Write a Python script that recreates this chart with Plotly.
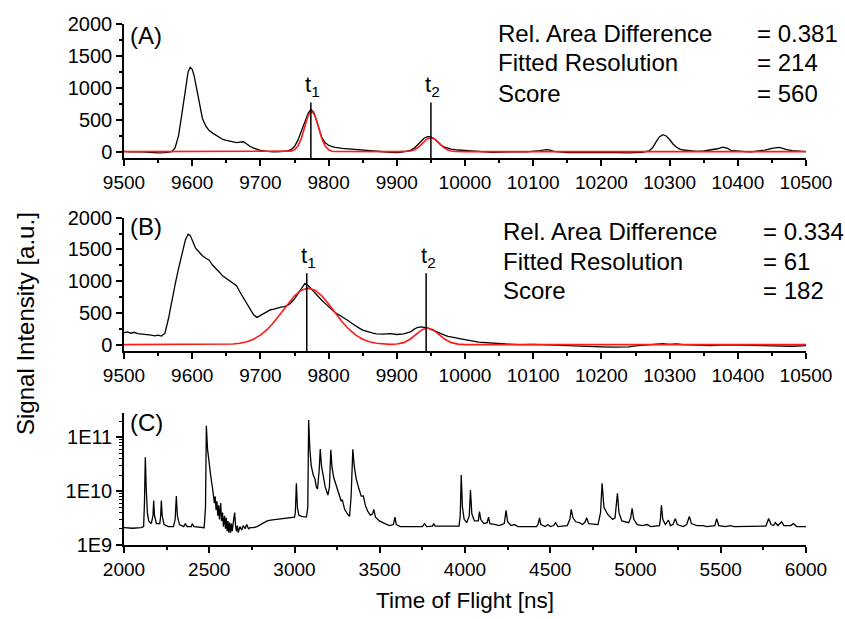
import plotly.graph_objects as go

# ---------------- Panel A data ----------------
a_x = [9500, 9510, 9520, 9530, 9540, 9550, 9560, 9565, 9570, 9575, 9580, 9585, 9590, 9594, 9597,
       9600, 9603, 9607, 9611, 9615, 9620, 9625, 9630, 9635, 9640, 9645, 9650, 9655, 9660, 9665,
       9670, 9675, 9680, 9685, 9690, 9695, 9700, 9710, 9720, 9730, 9740, 9745, 9750, 9755, 9760,
       9765, 9770, 9774, 9778, 9782, 9786, 9790, 9795, 9800, 9805, 9810, 9820, 9830, 9840, 9850,
       9860, 9870, 9880, 9890, 9900, 9910, 9920, 9925, 9930, 9935, 9940, 9945, 9950, 9955, 9960,
       9965, 9970, 9975, 9980, 9990, 10000, 10010, 10020, 10030, 10040, 10050, 10060, 10070, 10080,
       10090, 10100, 10110, 10120, 10125, 10130, 10140, 10150, 10160, 10170, 10180, 10190, 10200,
       10210, 10220, 10230, 10240, 10250, 10260, 10270, 10275, 10280, 10285, 10290, 10295, 10300,
       10305, 10310, 10315, 10320, 10330, 10340, 10350, 10360, 10370, 10378, 10385, 10390, 10400,
       10410, 10420, 10430, 10440, 10450, 10460, 10465, 10470, 10480, 10490, 10500]
a_y = [5, -5, 0, -10, -15, -20, -15, -10, 0, 60, 250, 600, 1000, 1250, 1320,
       1290, 1180, 950, 720, 520, 400, 330, 290, 260, 220, 190, 175, 165, 155, 140,
       150, 155, 120, 80, 55, 35, 20, 5, -5, 0, 10, 30, 80, 180, 320,
       470, 600, 660, 620, 500, 350, 220, 140, 100, 80, 65, 50, 40, 30, 20,
       10, 5, 0, -10, -15, -5, 20, 50, 100, 160, 210, 235, 230, 200, 150,
       100, 70, 50, 40, 25, 15, 5, 0, -5, -10, -5, -10, -5, 0,
       -5, 0, 15, 30, 25, 5, -10, -15, -10, -15, -20, -15, -10,
       -15, -10, -15, -20, -15, -10, 10, 60, 150, 230, 265, 245, 190,
       120, 70, 40, 25, 15, 5, 10, 25, 45, 70, 50, 20, 5,
       0, -5, 5, 25, 50, 65, 55, 35, 15, 5, 0]

a_fit_x = [9500, 9740, 9745, 9750, 9755, 9760, 9765, 9770, 9775, 9780, 9785, 9790, 9795, 9800,
           9805, 9810, 9900, 9910, 9915, 9920, 9926, 9932, 9938, 9944, 9950, 9956, 9962, 9968,
           9974, 9980, 9986, 9992, 10000, 10500]
a_fit_y = [0, 1, 7, 28, 87, 208, 388, 565, 640, 565, 388, 208, 87, 28,
           7, 1, 0, 1, 3, 10, 30, 71, 133, 194, 220, 194, 133, 71,
           30, 10, 3, 1, 0, 0]

a_t_pos = [9774, 9950]
a_t_top = [770, 770]
a_t_labels = ["t<sub>1</sub>", "t<sub>2</sub>"]
a_stats = ["= 0.381", "= 214", "= 560"]

# ---------------- Panel B data ----------------
b_x = [9500, 9505, 9510, 9515, 9520, 9525, 9530, 9535, 9540, 9545, 9550, 9555, 9560, 9565, 9570,
       9575, 9580, 9585, 9590, 9594, 9597, 9600, 9605, 9610, 9615, 9620, 9625, 9630, 9635, 9640,
       9645, 9650, 9655, 9660, 9665, 9670, 9675, 9680, 9685, 9690, 9695, 9700, 9705, 9710, 9715,
       9720, 9725, 9730, 9735, 9740, 9745, 9750, 9755, 9760, 9765, 9770, 9775, 9780, 9785, 9790,
       9795, 9800, 9805, 9810, 9815, 9820, 9825, 9830, 9835, 9840, 9845, 9850, 9855, 9860, 9865,
       9870, 9880, 9890, 9900, 9910, 9920, 9925, 9930, 9935, 9940, 9945, 9950, 9955, 9960, 9965,
       9970, 9975, 9980, 9985, 9990, 10000, 10010, 10020, 10030, 10040, 10050, 10060, 10070, 10080,
       10100, 10120, 10140, 10160, 10180, 10200, 10220, 10240, 10250, 10270, 10280, 10290, 10300,
       10310, 10320, 10340, 10360, 10380, 10400, 10420, 10440, 10460, 10480, 10500]
b_y = [190, 200, 180, 195, 175, 170, 160, 165, 150, 140, 150, 135, 180, 400, 700,
       950, 1200, 1450, 1650, 1740, 1720, 1650, 1520, 1460, 1400, 1360, 1330, 1250, 1200, 1140,
       1080, 1040, 1000, 960, 930, 830, 740, 650, 560, 470, 430, 460, 500, 530, 550,
       560, 580, 590, 600, 620, 660, 720, 800, 880, 960, 930, 870, 820, 760, 700,
       650, 600, 560, 500, 470, 440, 410, 370, 330, 290, 260, 230, 210, 195, 180,
       170, 165, 175, 160, 170, 200, 240, 270, 280, 270, 265, 240, 215, 190, 175,
       150, 130, 115, 110, 100, 85, 60, 40, 30, 20, 15, 10, 5, 0,
       5, -5, -10, -20, -30, -35, -40, -35, -20, 0, 10, 15, 5,
       10, 0, -10, -15, -5, -10, -15, -10, -20, -25, -15]

b_fit_x = [9500, 9640, 9650, 9660, 9670, 9680, 9690, 9700, 9710, 9720, 9730, 9740, 9750, 9760,
           9770, 9780, 9790, 9800, 9810, 9820, 9830, 9840, 9850, 9860, 9870, 9880, 9890, 9900,
           9910, 9920, 9930, 9937, 9945, 9953, 9960, 9970, 9980, 9990, 10000, 10010, 10500]
b_fit_y = [0, 2, 4, 11, 23, 46, 86, 149, 239, 357, 496, 641, 769, 858,
           890, 858, 769, 641, 496, 357, 239, 149, 86, 46, 23, 11, 5, 10,
           32, 89, 178, 235, 262, 235, 178, 89, 32, 8, 1, 0, 0]

b_t_pos = [9768, 9943]
b_t_top = [1125, 1125]
b_t_labels = ["t<sub>1</sub>", "t<sub>2</sub>"]
b_stats = ["= 0.334", "= 61", "= 182"]

stat_names = ["Rel. Area Difference", "Fitted Resolution", "Score"]

# ---------------- Panel C data ----------------
c_x = [2000, 2050, 2100, 2115, 2120, 2125, 2130, 2137, 2145, 2160, 2170, 2174, 2179, 2190, 2210,
       2215, 2219, 2224, 2235, 2260, 2290, 2300, 2307, 2313, 2325, 2350, 2360, 2370, 2395, 2400,
       2410, 2470, 2478, 2483, 2490, 2500, 2510, 2520, 2526, 2530, 2535, 2540, 2545, 2550, 2555,
       2560, 2567, 2572, 2578, 2583, 2590, 2595, 2600, 2605, 2610, 2615, 2620, 2625, 2630, 2635,
       2640, 2649, 2655, 2660, 2665, 2670, 2680, 2690, 2700, 2710, 2720, 2730, 2740, 2760, 2780,
       2800, 2820, 2840, 2860, 2900, 2950, 3000, 3005, 3011, 3017, 3025, 3040, 3070, 3078, 3083,
       3090, 3098, 3110, 3120, 3128, 3135, 3145, 3151, 3158, 3167, 3180, 3196, 3205, 3213, 3220,
       3230, 3245, 3260, 3274, 3280, 3294, 3310, 3323, 3332, 3342, 3350, 3362, 3375, 3391, 3404,
       3415, 3430, 3445, 3458, 3465, 3475, 3498, 3530, 3557, 3580, 3589, 3597, 3620, 3660, 3700,
       3750, 3763, 3775, 3810, 3816, 3825, 3900, 3965, 3972, 3978, 3985, 3995, 4010, 4025, 4032,
       4040, 4055, 4078, 4085, 4092, 4110, 4130, 4138, 4146, 4180, 4200, 4230, 4241, 4250, 4270,
       4290, 4310, 4420, 4430, 4437, 4445, 4470, 4486, 4500, 4520, 4531, 4545, 4600, 4615, 4623,
       4633, 4650, 4671, 4690, 4705, 4714, 4725, 4780, 4795, 4804, 4815, 4837, 4866, 4880, 4887,
       4894, 4903, 4920, 4960, 4972, 4980, 4990, 5010, 5040, 5068, 5090, 5140, 5146, 5152, 5160,
       5175, 5193, 5205, 5220, 5234, 5245, 5280, 5300, 5316, 5328, 5360, 5394, 5420, 5465, 5476,
       5488, 5530, 5554, 5580, 5700, 5765, 5781, 5795, 5810, 5820, 5835, 5857, 5870, 5910, 5927,
       5945, 6000]
c_y = [2.1e9, 2.05e9, 2.1e9, 2.2e9, 6e9, 4.3e10, 1.2e10, 4e9, 2.8e9, 2.5e9, 3.5e9, 6.7e9, 3.5e9, 2.5e9, 2.5e9,
       3.5e9, 6.7e9, 3.5e9, 2.4e9, 2.2e9, 2.2e9, 3e9, 8.1e9, 3.5e9, 2.4e9, 2.2e9, 2.5e9, 2.2e9, 2.2e9, 2.5e9,
       2.2e9, 2.1e9, 5e9, 1.65e11, 6e10, 3e10, 1.8e10, 1.1e10, 8e9, 6e9, 8e9, 4.5e9, 6.5e9, 3.5e9, 5.5e9,
       3e9, 6e9, 2.8e9, 4e9, 2.2e9, 3.5e9, 2e9, 3.2e9, 1.8e9, 2.8e9, 1.7e9, 2.6e9, 1.7e9, 2.5e9, 1.8e9,
       2.5e9, 4e9, 2.2e9, 1.8e9, 2.3e9, 1.7e9, 2.2e9, 1.9e9, 2.3e9, 2e9, 2.4e9, 2e9, 2.1e9, 2.1e9, 2.2e9,
       2.4e9, 2.6e9, 2.8e9, 2.9e9, 3.0e9, 3.1e9, 3.3e9, 4e9, 1.4e10, 5e9, 3.6e9, 3.4e9, 3.3e9, 5e9, 2.1e11,
       6e10, 3e10, 2e10, 1.7e10, 1.2e10, 1.1e10, 2.5e10, 6.1e10, 3e10, 1.9e10, 1.2e10, 8.5e9, 1.2e10, 5.9e10, 2.8e10,
       1.8e10, 1.25e10, 8.5e9, 6.5e9, 7e9, 4.6e9, 3.8e9, 3.4e9, 8e9, 6e10, 3e10, 1.7e10, 1.2e10, 8.1e9, 8.2e9,
       5.5e9, 4.2e9, 3.6e9, 3.8e9, 4.6e9, 3.3e9, 2.8e9, 2.5e9, 2.3e9, 2.4e9, 3.3e9, 2.4e9, 2.2e9, 2.2e9, 2.2e9,
       2.2e9, 2.5e9, 2.2e9, 2.25e9, 2.5e9, 2.25e9, 2.25e9, 2.25e9, 3.5e9, 2e10, 5e9, 3e9, 2.6e9, 3.5e9, 1.05e10,
       3.8e9, 2.8e9, 2.8e9, 4.2e9, 3e9, 2.5e9, 2.6e9, 3.3e9, 2.5e9, 2.4e9, 2.3e9, 2.5e9, 4.4e9, 2.7e9, 2.3e9,
       2.4e9, 2.2e9, 2.2e9, 2.5e9, 3.2e9, 2.4e9, 2.2e9, 2.4e9, 2.2e9, 2.3e9, 2.6e9, 2.2e9, 2.3e9, 3e9, 4.6e9,
       3.2e9, 2.7e9, 2.6e9, 2.4e9, 2.7e9, 3.2e9, 2.5e9, 2.4e9, 4e9, 1.4e10, 5e9, 3.7e9, 3e9, 3.2e9, 5e9,
       9.1e9, 4e9, 2.8e9, 2.6e9, 3.2e9, 4.8e9, 3e9, 2.4e9, 2.3e9, 2.4e9, 2.2e9, 2.3e9, 3e9, 5.5e9, 3e9,
       2.4e9, 2.9e9, 2.3e9, 2.4e9, 3.1e9, 2.4e9, 2.2e9, 2.4e9, 3.4e9, 2.5e9, 2.3e9, 2.3e9, 2.2e9, 2.3e9, 3.1e9,
       2.3e9, 2.2e9, 2.3e9, 2.2e9, 2.2e9, 2.25e9, 3.1e9, 2.4e9, 2.3e9, 2.6e9, 2.3e9, 2.7e9, 2.3e9, 2.3e9, 2.5e9,
       2.2e9, 2.2e9]

c_tickvals = [1e9, 1e10, 1e11]
c_ticktext = ["1E9", "1E10", "1E11"]

# ---------------- Figure ----------------
FONT = "Liberation Sans, Arial, Helvetica, sans-serif"
W, H = 845, 619
ML, MR, MT, MB = 124, 39, 24, 74
PW, PH = W - ML - MR, H - MT - MB


def px(xs):
    return (xs - ML) / PW


def py(ys):
    return (H - MB - ys) / PH


BLACK_W = 1.3
RED = "#ff1a1a"
fig = go.Figure()

fig.add_trace(go.Scatter(x=a_x, y=a_y, mode="lines", line=dict(color="black", width=BLACK_W),
                         xaxis="x", yaxis="y", showlegend=False))
fig.add_trace(go.Scatter(x=a_fit_x, y=a_fit_y, mode="lines", line=dict(color=RED, width=1.6),
                         xaxis="x", yaxis="y", showlegend=False))
vx, vy = [], []
for t, top in zip(a_t_pos, a_t_top):
    vx += [t, t, None]
    vy += [-100, top, None]
fig.add_trace(go.Scatter(x=vx, y=vy, mode="lines", line=dict(color="black", width=1.5),
                         xaxis="x", yaxis="y", showlegend=False, cliponaxis=False))

fig.add_trace(go.Scatter(x=b_x, y=b_y, mode="lines", line=dict(color="black", width=BLACK_W),
                         xaxis="x2", yaxis="y2", showlegend=False))
fig.add_trace(go.Scatter(x=b_fit_x, y=b_fit_y, mode="lines", line=dict(color=RED, width=1.6),
                         xaxis="x2", yaxis="y2", showlegend=False))
vx, vy = [], []
for t, top in zip(b_t_pos, b_t_top):
    vx += [t, t, None]
    vy += [-100, top, None]
fig.add_trace(go.Scatter(x=vx, y=vy, mode="lines", line=dict(color="black", width=1.5),
                         xaxis="x2", yaxis="y2", showlegend=False, cliponaxis=False))

fig.add_trace(go.Scatter(x=c_x, y=c_y, mode="lines", line=dict(color="black", width=BLACK_W),
                         xaxis="x3", yaxis="y3", showlegend=False))

xtickfont = dict(family=FONT, size=19, color="black")
ytickfont = dict(family=FONT, size=20, color="black")
common = dict(showline=True, linecolor="black", linewidth=1.5, ticks="outside", ticklen=6,
              tickwidth=1.5, tickcolor="black", showgrid=False, zeroline=False)


def minor(dt):
    return dict(ticks="outside", ticklen=3.5, tickwidth=1.5, tickcolor="black", dtick=dt,
                showgrid=False)


dA = [py(158), py(24)]
dB = [py(351), py(217.7)]
dC = [0, py(412.7)]

fig.update_layout(
    width=W, height=H, margin=dict(l=ML, r=MR, t=MT, b=MB, autoexpand=False),
    paper_bgcolor="white", plot_bgcolor="white",
    xaxis=dict(common, domain=[0, 1], anchor="y", range=[9500, 10500], tick0=9500, dtick=100,
               tickformat="d", tickfont=xtickfont, minor=minor(50)),
    yaxis=dict(common, domain=dA, anchor="x", range=[-100, 2000], tick0=0, dtick=500,
               tickformat="d", tickfont=ytickfont, minor=minor(250)),
    xaxis2=dict(common, domain=[0, 1], anchor="y2", range=[9500, 10500], tick0=9500, dtick=100,
                tickformat="d", tickfont=xtickfont, minor=minor(50)),
    yaxis2=dict(common, domain=dB, anchor="x2", range=[-100, 2000], tick0=0, dtick=500,
                tickformat="d", tickfont=ytickfont, minor=minor(250)),
    xaxis3=dict(common, domain=[0, 1], anchor="y3", range=[2000, 6000], tick0=2000, dtick=500,
                tickformat="d", tickfont=xtickfont, minor=minor(250)),
    yaxis3=dict(common, domain=dC, anchor="x3", type="log", range=[9, 11.46],
                tickvals=c_tickvals, ticktext=c_ticktext, tickfont=ytickfont,
                minor=dict(ticks="outside", ticklen=3.5, tickwidth=1, tickcolor="black",
                           dtick="D1", showgrid=False)),
)

ann = []
lblfont = dict(family=FONT, size=24, color="black")
tfont = dict(family=FONT, size=22, color="black")
statfont = dict(family=FONT, size=24, color="black")
for lbl, yy in zip(["(A)", "(B)", "(C)"], [35, 226, 423]):
    ann.append(dict(text=lbl, x=px(128), y=py(yy), xref="paper", yref="paper",
                    xanchor="left", yanchor="middle", showarrow=False, font=lblfont))

for names_y, vals, xl, xv in [([33, 63, 93], a_stats, 496, 755),
                              ([231, 261, 290], b_stats, 501, 761)]:
    for nm, v, yy in zip(stat_names, vals, names_y):
        ann.append(dict(text=nm, x=px(xl), y=py(yy), xref="paper", yref="paper",
                        xanchor="left", yanchor="middle", showarrow=False, font=statfont))
        ann.append(dict(text=v, x=px(xv), y=py(yy), xref="paper", yref="paper",
                        xanchor="left", yanchor="middle", showarrow=False, font=statfont))

for xr, yr, pos, tops, labels in [("x", "y", a_t_pos, a_t_top, a_t_labels),
                                  ("x2", "y2", b_t_pos, b_t_top, b_t_labels)]:
    for t, top, lab in zip(pos, tops, labels):
        ann.append(dict(text=lab, x=t, y=top, xref=xr, yref=yr, xanchor="center",
                        yanchor="bottom", showarrow=False, font=tfont, xshift=2, yshift=0))

ann.append(dict(text="Signal Intensity [a.u.]", x=px(26), y=py(323), xref="paper", yref="paper",
                textangle=-90, xanchor="center", yanchor="middle", showarrow=False,
                font=dict(family=FONT, size=24, color="black")))
ann.append(dict(text="Time of Flight [ns]", x=px(465), y=py(600), xref="paper", yref="paper",
                xanchor="center", yanchor="middle", showarrow=False,
                font=dict(family=FONT, size=22.5, color="black")))
fig.update_layout(annotations=ann)

fig.write_html(
    "out.html",
    config={"displayModeBar": False},
    post_script="document.body.style.margin='0';document.body.style.overflow='hidden';",
)
